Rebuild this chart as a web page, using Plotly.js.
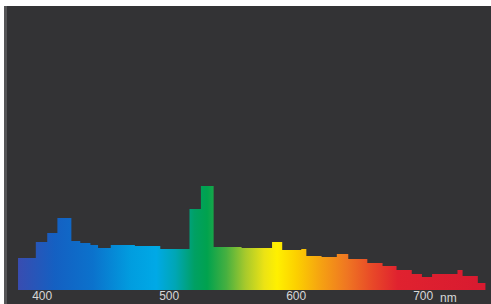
<!DOCTYPE html>
<html>
<head>
<meta charset="utf-8">
<script src="https://cdn.plot.ly/plotly-3.0.1.min.js"></script>
<style>
  html, body { margin:0; padding:0; background:#ffffff; width:491px; height:304px; overflow:hidden; }
  #chart { position:absolute; left:4px; top:6px; width:487px; height:298px; box-sizing:border-box; border-left:3px solid #555557; background:#333335; }
</style>
</head>
<body>
<div id="chart"></div>
<script>
// Spectrum bins: left edge wavelength (nm) and relative intensity
const binStart = [381, 395, 404, 412, 423, 430, 438, 444, 454, 473, 493, 516, 525, 535, 557, 581, 589, 604, 608, 620, 632, 641, 656, 668, 679, 691, 699, 707, 727, 731, 743];
const binEnd = 749;
const intensity = [32, 48, 57, 72, 49, 47, 45, 42, 45, 44, 41, 81, 104, 43, 42, 48, 40, 41, 34, 33, 36, 31, 27, 24, 20, 16, 13, 16, 20, 14, 7];
const tickValues = [400, 500, 600, 700];
const tickLabels = ["400", "500", "600", "700"];
const unitLabel = "nm";

// step outline built from the bins
const xs = binStart.concat([binEnd]);
const ys = intensity.concat([intensity[intensity.length - 1]]);

const specScale = [
  [0.000, '#3a4cb0'], // 380
  [0.081, '#1460c2'], // 410
  [0.162, '#0b72cc'], // 440
  [0.243, '#019ddf'], // 470
  [0.297, '#00a9e6'], // 490
  [0.338, '#00a6b4'], // 505
  [0.378, '#00a064'], // 520
  [0.405, '#00a24e'], // 530
  [0.446, '#46b040'], // 545
  [0.486, '#a6c92c'], // 560
  [0.527, '#ece314'], // 575
  [0.554, '#fff000'], // 585
  [0.595, '#fcd000'], // 600
  [0.649, '#f5a012'], // 620
  [0.703, '#ef7622'], // 640
  [0.757, '#e84828'], // 660
  [0.811, '#e0222f'], // 680
  [1.000, '#d81a30']  // 750
];

const trace = {
  x: xs, y: ys,
  type: 'scatter', mode: 'lines',
  line: { shape: 'hv', width: 0, color: 'rgba(0,0,0,0)' },
  fill: 'tozeroy',
  fillgradient: { type: 'horizontal', colorscale: specScale, start: 380, stop: 750 },
  hoverinfo: 'skip'
};

const lblFont = { family: 'Liberation Sans, Arial, sans-serif', size: 12, color: '#d8d8d8' };

const layout = {
  width: 484, height: 298,
  margin: { l: 11, r: 1, t: 0, b: 14, pad: 0 },
  paper_bgcolor: '#333335', plot_bgcolor: '#333335',
  showlegend: false,
  xaxis: {
    range: [380.98, 752.6], showgrid: false, zeroline: false, showline: false,
    ticks: '', tickvals: tickValues, ticktext: tickLabels,
    ticklabelstandoff: -3,
    tickfont: lblFont,
    fixedrange: true
  },
  yaxis: {
    range: [0, 284], showgrid: false, zeroline: false, showline: false,
    showticklabels: false, ticks: '', fixedrange: true
  },
  annotations: [{
    x: 720, y: 0, xref: 'x', yref: 'paper', text: unitLabel, showarrow: false,
    yanchor: 'middle', yshift: -8, borderpad: 0,
    font: lblFont
  }]
};

Plotly.newPlot('chart', [trace], layout, { displayModeBar: false, staticPlot: true });
</script>
</body>
</html>
